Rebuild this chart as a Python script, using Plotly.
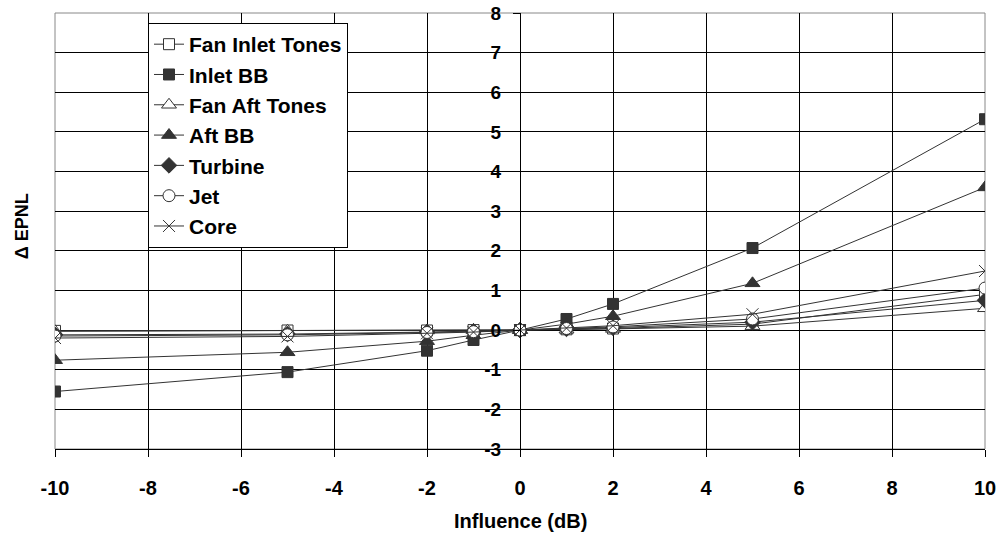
import plotly.graph_objects as go

# Influence sweep (dB)
influence = [-10, -5, -2, -1, 0, 1, 2, 5, 10]

# Delta EPNL per noise source
fan_inlet_tones = [-0.02, -0.01, -0.01, 0.0, 0.0, 0.02, 0.04, 0.15, 0.9]
inlet_bb = [-1.55, -1.06, -0.52, -0.25, 0.0, 0.28, 0.66, 2.07, 5.32]
fan_aft_tones = [-0.03, -0.02, -0.01, 0.0, 0.0, 0.01, 0.03, 0.1, 0.55]
aft_bb = [-0.76, -0.56, -0.28, -0.13, 0.0, 0.15, 0.35, 1.18, 3.6]
turbine = [-0.12, -0.1, -0.05, -0.03, 0.0, 0.03, 0.06, 0.2, 0.75]
jet = [-0.15, -0.12, -0.06, -0.04, 0.0, 0.04, 0.08, 0.28, 1.06]
core = [-0.2, -0.16, -0.08, -0.05, 0.0, 0.05, 0.11, 0.4, 1.49]

y_ticks = list(range(-3, 9))
x_ticks = list(range(-10, 11, 2))

LINE = "#333333"
FONT = "Liberation Sans, Arial, sans-serif"

# name, values, symbol, fill, size
series = [
    ("Fan Inlet Tones", fan_inlet_tones, "square", "white", 11),
    ("Inlet BB", inlet_bb, "square", LINE, 11),
    ("Fan Aft Tones", fan_aft_tones, "triangle-up", "white", 13),
    ("Aft BB", aft_bb, "triangle-up", LINE, 13),
    ("Turbine", turbine, "diamond", LINE, 12),
    ("Jet", jet, "circle", "white", 12),
    ("Core", core, "x-thin-open", LINE, 12),
]

fig = go.Figure()
for i, (name, vals, sym, fill, size) in enumerate(series):
    fig.add_trace(go.Scatter(
        x=influence, y=vals, name=name, mode="lines+markers",
        legendgroup=f"g{i}",
        line=dict(color=LINE, width=1),
        marker=dict(symbol=sym, size=size, color=fill,
                    line=dict(color=LINE, width=1)),
    ))

fig.update_layout(
    width=1000, height=536,
    margin=dict(l=55, r=15, t=13, b=87),
    plot_bgcolor="white", paper_bgcolor="white",
    font=dict(family=FONT, size=18, color="black"),
    showlegend=True,
    legend=dict(x=0.1, y=0.977, xanchor="left", yanchor="top",
                bgcolor="white", bordercolor="black", borderwidth=1,
                tracegroupgap=0,
                font=dict(family=FONT, size=21, color="black", weight="bold")),
    xaxis=dict(range=[-10, 10], tickvals=x_ticks, ticktext=[str(v) for v in x_ticks],
               showgrid=True, gridcolor="black", gridwidth=1,
               zeroline=True, zerolinecolor="black", zerolinewidth=1,
               showline=True, linecolor="black", ticks="outside", ticklen=7,
               tickcolor="black", ticklabelstandoff=14, automargin=False,
               ticklabeloverflow="allow",
               tickfont=dict(size=20, weight="bold")),
    yaxis=dict(range=[-3, 8], tickvals=y_ticks, ticktext=[str(v) for v in y_ticks],
               showgrid=True, gridcolor="black", gridwidth=1,
               zeroline=True, zerolinecolor="black", zerolinewidth=1,
               anchor="free", position=0.5, showline=True, linecolor="black",
               ticks="outside", ticklen=7, tickcolor="black",
               ticklabelstandoff=8, automargin=False, ticklabeloverflow="allow",
               tickfont=dict(size=19, weight="bold")),
    annotations=[
        dict(text="<b>Δ EPNL</b>", x=-0.036, y=0.51, xref="paper", yref="paper",
             xanchor="center", yanchor="middle", textangle=-90, showarrow=False,
             font=dict(size=18)),
        dict(text="<b>Influence (dB)</b>", x=0.5, y=-0.165, xref="paper", yref="paper",
             xanchor="center", yanchor="middle", showarrow=False,
             font=dict(size=20)),
    ],
)

# grey frame on left / right edges of the plot area
fig.add_shape(type="rect", xref="paper", yref="paper", x0=0, x1=1, y0=0, y1=1,
              line=dict(color="#888888", width=1), layer="below")

# drop the default 8px page margin so the figure fills the window
fig.write_html("out.html", config={"displayModeBar": False},
               post_script="document.body.style.margin='0';document.body.style.overflow='hidden';")
